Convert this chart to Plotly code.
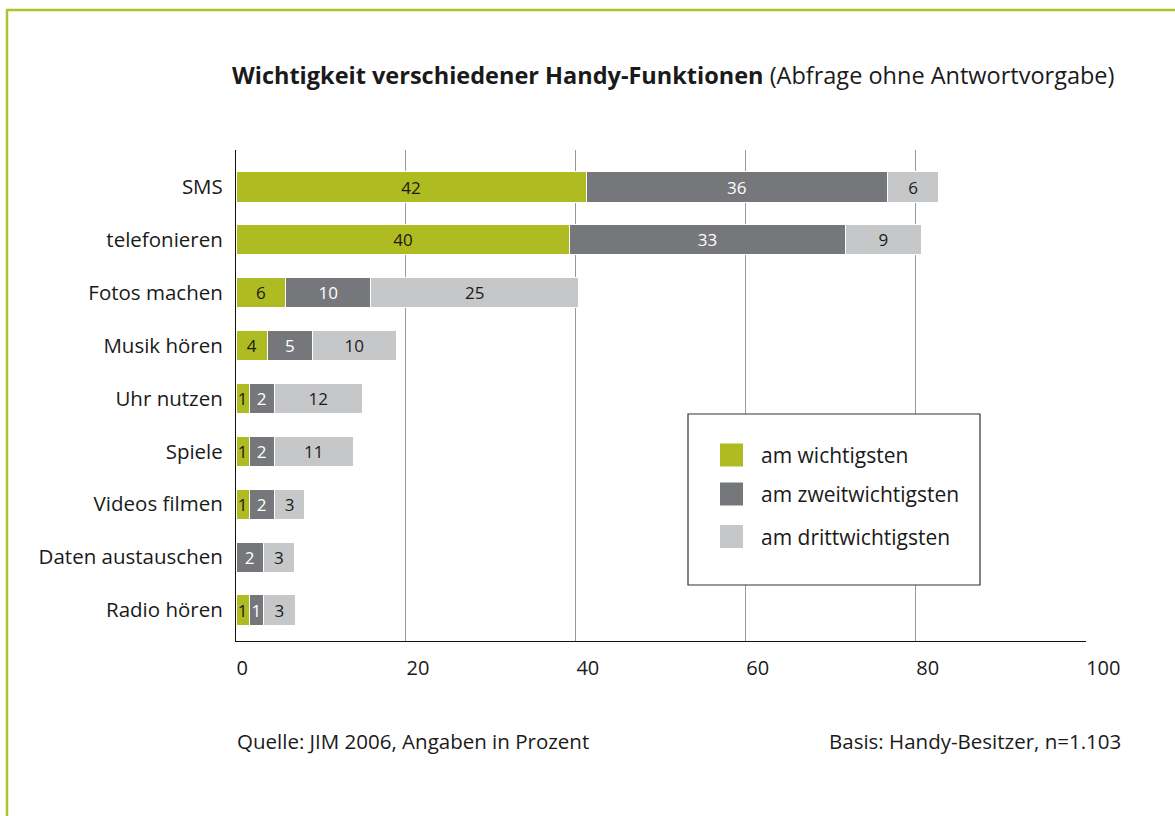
import plotly.graph_objects as go

categories = ["SMS", "telefonieren", "Fotos machen", "Musik hören", "Uhr nutzen",
              "Spiele", "Videos filmen", "Daten austauschen", "Radio hören"]
series_names = ["am wichtigsten", "am zweitwichtigsten", "am drittwichtigsten"]
# bar lengths as drawn (percent)
first = [41.2, 39.3, 5.85, 3.7, 1.55, 1.55, 1.55, 0, 1.55]
second = [35.5, 32.4, 10.0, 5.3, 2.95, 2.95, 2.95, 3.2, 1.7]
third = [6.0, 9.0, 24.5, 9.85, 10.35, 9.3, 3.6, 3.7, 3.7]
# printed value labels
first_labels = ["42", "40", "6", "4", "1", "1", "1", "", "1"]
second_labels = ["36", "33", "10", "5", "2", "2", "2", "2", "1"]
third_labels = ["6", "9", "25", "10", "12", "11", "3", "3", "3"]
x_ticks = [0, 20, 40, 60, 80, 100]

title_bold = "Wichtigkeit verschiedener Handy-Funktionen"
title_rest = "(Abfrage ohne Antwortvorgabe)"
source_text = "Quelle: JIM 2006, Angaben in Prozent"
basis_text = "Basis: Handy-Besitzer, n=1.103"

FONT = "Open Sans"
colors = ["#AEBC21", "#76777A", "#C6C7C9"]
text_colors = ["#1a1a1a", "#ffffff", "#1a1a1a"]
FRAME = "#B4C12F"

fig = go.Figure()
for name, vals, labels, col, tcol in zip(series_names, [first, second, third],
                                         [first_labels, second_labels, third_labels],
                                         colors, text_colors):
    fig.add_trace(go.Bar(
        y=categories, x=vals, orientation="h", name=name,
        marker=dict(color=col, line=dict(color="white", width=1)),
        text=labels, textposition="inside", insidetextanchor="middle",
        textangle=0, constraintext="none",
        textfont=dict(family=FONT, size=17, color=tcol),
        width=0.57, hoverinfo="skip", showlegend=False,
    ))

W, H = 1175, 816
L, R, T, B = 236, 89, 150, 175
pw, ph = W - L - R, H - T - B


def px(xp):
    return (xp - L) / pw


def py(yp):
    return (H - B - yp) / ph


shapes = []
# outer frame lines
shapes.append(dict(type="line", xref="paper", yref="paper", x0=px(7), x1=px(7),
                   y0=py(830), y1=py(10), line=dict(color=FRAME, width=2.5), layer="above"))
shapes.append(dict(type="line", xref="paper", yref="paper", x0=px(6), x1=px(1190),
                   y0=py(10), y1=py(10), line=dict(color=FRAME, width=2.5), layer="above"))
# legend box
shapes.append(dict(type="rect", xref="paper", yref="paper", x0=px(688), x1=px(980),
                   y0=py(585), y1=py(414), fillcolor="white",
                   line=dict(color="#333333", width=1.2), layer="above"))
annotations = []
item_y = [455, 494, 536.5]
for name, col, yc in zip(series_names, colors, item_y):
    shapes.append(dict(type="rect", xref="paper", yref="paper", x0=px(720), x1=px(743),
                       y0=py(yc + 11.5), y1=py(yc - 11.5), fillcolor=col,
                       line=dict(width=0), layer="above"))
    annotations.append(dict(xref="paper", yref="paper", x=px(759), y=py(yc),
                            xanchor="left", yanchor="middle", text=name, showarrow=False,
                            font=dict(family=FONT, size=21, color="#1a1a1a")))

annotations.append(dict(xref="paper", yref="paper", x=px(235), y=py(741),
                        xanchor="left", yanchor="middle", text=source_text, showarrow=False,
                        font=dict(family=FONT, size=20.5, color="#1a1a1a")))
annotations.append(dict(xref="paper", yref="paper", x=px(1123), y=py(741),
                        xanchor="right", yanchor="middle", text=basis_text, showarrow=False,
                        font=dict(family=FONT, size=20.5, color="#1a1a1a")))

fig.update_layout(
    width=W, height=H, barmode="stack",
    margin=dict(l=L, r=R, t=T, b=B, pad=0),
    paper_bgcolor="white", plot_bgcolor="white",
    font=dict(family=FONT, size=19, color="#1a1a1a"),
    title=dict(text=f"<b>{title_bold}</b> {title_rest}", x=232 / W, xanchor="left",
               y=1 - 76 / H, yanchor="middle",
               font=dict(family=FONT, size=23.5, color="#1a1a1a")),
    xaxis=dict(range=[0, 100.05], tickvals=x_ticks, ticktext=[str(v) for v in x_ticks],
               showgrid=True, gridcolor="#9a9a9a", gridwidth=1.2, zeroline=False,
               showline=True, linecolor="#111111", linewidth=1.2, ticks="",
               ticklabelposition="outside right", ticklabelstandoff=9,
               tickfont=dict(family=FONT, size=20, color="#1a1a1a"), fixedrange=True),
    yaxis=dict(type="category", categoryorder="array", categoryarray=categories,
               range=[8.586, -0.70], showgrid=False, zeroline=False,
               showline=True, linecolor="#111111", linewidth=1.2, ticks="",
               ticklabelstandoff=8,
               tickfont=dict(family=FONT, size=20.5, color="#1a1a1a"), fixedrange=True),
    shapes=shapes, annotations=annotations, showlegend=False,
)

fig.write_html("out.html", config={"displayModeBar": False},
               post_script="document.body.style.margin='0';document.body.style.overflow='hidden';")
